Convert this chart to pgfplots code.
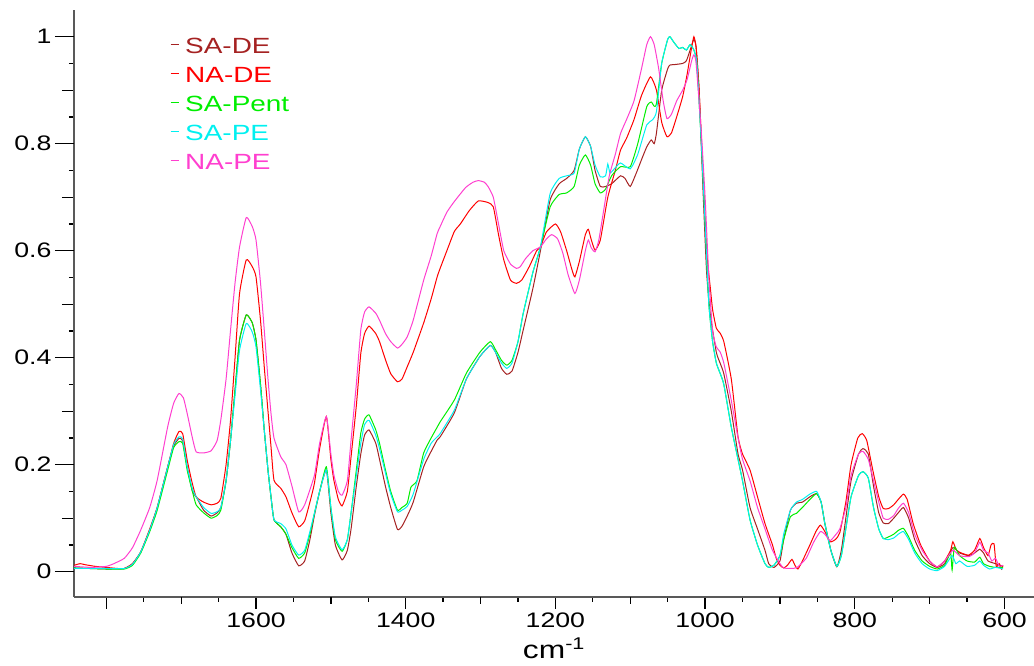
\documentclass[border=0pt]{standalone}
\usepackage{pgfplots}
\pgfplotsset{compat=1.18}
\usepackage{fontspec}
\setmainfont{Liberation Sans}[FakeStretch=1.27]
\definecolor{cSADE}{HTML}{A52222}
\definecolor{cNADE}{HTML}{FF0000}
\definecolor{cSAPent}{HTML}{00EE00}
\definecolor{cSAPE}{HTML}{00F0F0}
\definecolor{cNAPE}{HTML}{FF3FCF}
\begin{document}
\begin{tikzpicture}
\useasboundingbox (0,0) rectangle (1034pt,666pt);
\begin{axis}[
  at={(74pt,69pt)}, anchor=south west,
  scale only axis, width=960pt, height=587pt,
  x dir=reverse,
  xmin=560.6, xmax=1843.2, ymin=-0.0473, ymax=1.0499,
  axis x line*=bottom, axis y line*=left,
  axis line style={black!65, line width=1.3pt},
  every tick/.style={black, line width=1.3pt},
  tick align=outside,
  major tick length=12pt, minor tick length=5pt,
  xtick={600,800,1000,1200,1400,1600,1800},
  xticklabels={600,800,1000,1200,1400,1600,{}},
  extra x ticks={700,900,1100,1300,1500,1700},
  extra x tick labels={},
  extra x tick style={major tick length=7pt},
  minor xtick={650,750,850,950,1050,1150,1250,1350,1450,1550,1650,1750},
  ytick={0.1,0.3,0.5,0.7,0.9},
  yticklabels={},
  extra y ticks={0,0.2,0.4,0.6,0.8,1},
  extra y tick style={major tick length=19pt},
  minor ytick={0.05,0.15,0.25,0.35,0.45,0.55,0.65,0.75,0.85,0.95},
  /pgf/number format/1000 sep={},
  /pgf/number format/assume math mode=true,
  ticklabel style={font=\fontsize{21}{24}\selectfont},
  xlabel={cm\textsuperscript{\fontsize{17}{18}\selectfont -1}},
  xlabel style={font=\fontsize{25}{28}\selectfont, yshift=15pt},
  legend style={draw=none, fill=none, at={(0.1,0.9525)}, anchor=north west,
    font=\fontsize{22}{24}\selectfont, row sep=9pt, column sep=6pt, inner sep=0pt,
    nodes={inner sep=0pt, text height=15pt, text depth=5pt}},
  legend cell align=left,
  legend image code/.code={\draw[#1, line width=1pt] (0pt,4pt) -- (8pt,4pt);},
  every axis plot/.append style={line width=1pt},
]
% SA-DE
\addplot[cSADE, smooth, tension=0.3] coordinates {
(1843,0.007)(1800,0.005)(1776,0.006)(1765,0.015)(1754,0.037)(1742,0.078)(1732,0.12)(1718,0.196)(1710,0.235)(1703,0.249)(1698,0.245)(1692,0.196)(1685,0.15)(1680,0.14)(1670,0.115)(1660,0.104)(1652,0.11)(1647,0.12)(1640,0.17)(1634,0.246)(1628,0.34)(1622,0.433)(1613,0.480)(1605,0.465)(1600,0.433)(1594,0.35)(1589,0.265)(1584,0.19)(1580,0.14)(1576,0.097)(1567,0.084)(1560,0.07)(1552,0.035)(1543,0.011)(1535,0.02)(1528,0.06)(1522,0.105)(1515,0.15)(1506,0.19)(1500,0.11)(1494,0.05)(1485,0.022)(1478,0.04)(1473,0.08)(1466,0.16)(1460,0.22)(1455,0.255)(1449,0.265)(1440,0.24)(1435,0.21)(1427,0.159)(1420,0.12)(1411,0.079)(1405,0.085)(1398,0.104)(1390,0.13)(1376,0.196)(1366,0.225)(1358,0.246)(1354,0.252)(1335,0.297)(1319,0.36)(1301,0.402)(1287,0.423)(1280,0.41)(1272,0.38)(1265,0.369)(1258,0.375)(1250,0.41)(1243,0.452)(1230,0.53)(1220,0.60)(1207,0.695)(1195,0.725)(1185,0.735)(1175,0.75)(1168,0.79)(1160,0.813)(1153,0.795)(1147,0.75)(1140,0.72)(1133,0.72)(1125,0.725)(1113,0.74)(1107,0.735)(1100,0.72)(1092,0.745)(1085,0.77)(1078,0.794)(1072,0.807)(1068,0.80)(1065,0.82)(1058,0.90)(1050,0.94)(1047,0.947)(1040,0.948)(1030,0.950)(1025,0.955)(1020,0.975)(1015,0.995)(1012,0.98)(1008,0.90)(1003,0.72)(998,0.56)(993,0.48)(985,0.41)(980,0.39)(975,0.37)(965,0.30)(956,0.22)(950,0.19)(940,0.12)(930,0.08)(920,0.04)(915,0.015)(908,0.008)(900,0.02)(895,0.06)(886,0.115)(878,0.128)(870,0.13)(860,0.14)(851,0.146)(845,0.13)(840,0.09)(832,0.04)(824,0.009)(818,0.04)(812,0.10)(805,0.17)(795,0.22)(789,0.23)(782,0.22)(775,0.16)(768,0.11)(762,0.091)(755,0.09)(748,0.10)(742,0.11)(735,0.12)(728,0.10)(720,0.06)(710,0.03)(700,0.015)(690,0.008)(680,0.015)(669,0.045)(660,0.035)(648,0.03)(640,0.035)(633,0.042)(628,0.035)(622,0.02)(612,0.015)(602,0.01)
};
\addlegendentry{\textcolor{cSADE}{SA-DE}}
% NA-DE
\addplot[cNADE, smooth, tension=0.3] coordinates {
(1843,0.012)(1835,0.015)(1828,0.013)(1815,0.010)(1800,0.008)(1785,0.006)(1776,0.006)(1765,0.015)(1754,0.037)(1742,0.08)(1732,0.12)(1718,0.196)(1710,0.24)(1703,0.262)(1698,0.258)(1692,0.209)(1686,0.17)(1680,0.14)(1670,0.13)(1660,0.125)(1652,0.128)(1647,0.137)(1640,0.20)(1634,0.284)(1628,0.40)(1622,0.52)(1613,0.583)(1605,0.57)(1600,0.551)(1594,0.47)(1589,0.383)(1584,0.30)(1580,0.234)(1576,0.171)(1567,0.156)(1560,0.14)(1552,0.11)(1543,0.084)(1535,0.095)(1528,0.13)(1522,0.165)(1515,0.23)(1506,0.29)(1500,0.21)(1496,0.171)(1490,0.135)(1485,0.123)(1478,0.15)(1473,0.215)(1466,0.31)(1460,0.408)(1455,0.445)(1449,0.459)(1440,0.445)(1435,0.43)(1427,0.396)(1420,0.37)(1411,0.355)(1405,0.36)(1398,0.383)(1390,0.41)(1376,0.465)(1366,0.51)(1358,0.551)(1354,0.567)(1345,0.60)(1335,0.636)(1327,0.650)(1315,0.675)(1303,0.693)(1290,0.690)(1283,0.682)(1276,0.63)(1269,0.583)(1260,0.545)(1252,0.539)(1245,0.545)(1235,0.57)(1225,0.60)(1220,0.607)(1212,0.635)(1200,0.650)(1193,0.635)(1185,0.60)(1178,0.565)(1174,0.551)(1168,0.58)(1160,0.63)(1156,0.640)(1152,0.62)(1147,0.601)(1140,0.62)(1130,0.70)(1120,0.75)(1113,0.788)(1105,0.81)(1095,0.845)(1085,0.89)(1073,0.925)(1065,0.90)(1058,0.84)(1051,0.813)(1045,0.82)(1038,0.85)(1030,0.888)(1024,0.93)(1018,0.98)(1015,1.0)(1012,0.98)(1008,0.90)(1003,0.75)(998,0.60)(993,0.53)(990,0.49)(985,0.455)(980,0.446)(975,0.43)(965,0.36)(956,0.252)(950,0.22)(940,0.19)(930,0.14)(920,0.09)(910,0.05)(905,0.025)(900,0.012)(895,0.007)(890,0.012)(884,0.023)(880,0.012)(876,0.005)(870,0.02)(860,0.05)(852,0.075)(846,0.087)(840,0.075)(833,0.056)(826,0.06)(820,0.073)(812,0.13)(805,0.20)(796,0.25)(790,0.258)(784,0.245)(776,0.19)(768,0.14)(762,0.118)(755,0.118)(748,0.125)(742,0.135)(735,0.145)(730,0.135)(722,0.09)(712,0.05)(700,0.02)(690,0.009)(680,0.02)(672,0.04)(669,0.056)(664,0.04)(656,0.034)(648,0.031)(640,0.04)(633,0.062)(628,0.045)(622,0.03)(618,0.05)(614,0.052)(611,0.01)(607,0.015)(604,0.005)(602,0.012)
};
\addlegendentry{\textcolor{cNADE}{NA-DE}}
% SA-Pent
\addplot[cSAPent, smooth, tension=0.3] coordinates {
(1843,0.007)(1800,0.005)(1776,0.005)(1765,0.012)(1754,0.035)(1742,0.075)(1732,0.115)(1718,0.19)(1710,0.232)(1703,0.243)(1698,0.24)(1692,0.19)(1685,0.15)(1680,0.125)(1670,0.11)(1660,0.10)(1652,0.105)(1647,0.115)(1640,0.17)(1634,0.246)(1628,0.34)(1622,0.433)(1613,0.480)(1605,0.465)(1600,0.433)(1594,0.35)(1589,0.265)(1584,0.19)(1580,0.14)(1576,0.097)(1567,0.084)(1560,0.07)(1552,0.045)(1543,0.025)(1535,0.035)(1528,0.07)(1522,0.109)(1515,0.15)(1506,0.196)(1500,0.12)(1494,0.06)(1485,0.038)(1478,0.06)(1473,0.11)(1466,0.19)(1460,0.259)(1455,0.285)(1449,0.293)(1440,0.265)(1435,0.24)(1427,0.19)(1420,0.15)(1411,0.115)(1405,0.12)(1398,0.128)(1393,0.158)(1385,0.17)(1376,0.222)(1366,0.25)(1358,0.27)(1354,0.28)(1335,0.321)(1319,0.371)(1301,0.41)(1287,0.43)(1280,0.415)(1272,0.395)(1265,0.386)(1258,0.395)(1250,0.43)(1243,0.483)(1230,0.56)(1220,0.607)(1207,0.682)(1195,0.705)(1185,0.708)(1175,0.72)(1168,0.76)(1160,0.779)(1153,0.76)(1147,0.725)(1140,0.708)(1133,0.715)(1125,0.74)(1113,0.757)(1100,0.757)(1090,0.80)(1078,0.869)(1072,0.878)(1068,0.87)(1065,0.875)(1058,0.95)(1050,0.995)(1047,1.0)(1042,0.99)(1035,0.978)(1030,0.98)(1025,0.975)(1020,0.985)(1015,0.975)(1011,0.95)(1005,0.80)(1000,0.65)(995,0.50)(990,0.43)(985,0.39)(980,0.371)(975,0.35)(965,0.27)(956,0.21)(950,0.17)(940,0.097)(930,0.05)(920,0.015)(915,0.008)(908,0.012)(900,0.03)(895,0.06)(886,0.103)(878,0.109)(870,0.12)(860,0.135)(851,0.146)(845,0.13)(840,0.09)(832,0.04)(824,0.01)(818,0.03)(812,0.08)(805,0.14)(795,0.18)(789,0.187)(782,0.175)(775,0.12)(768,0.08)(762,0.062)(755,0.065)(748,0.07)(742,0.077)(735,0.081)(728,0.065)(720,0.04)(710,0.02)(700,0.01)(690,0.005)(680,0.012)(672,0.035)(670,0.003)(667,0.046)(660,0.03)(650,0.02)(640,0.018)(633,0.027)(628,0.015)(620,0.01)(612,0.008)(602,0.008)
};
\addlegendentry{\textcolor{cSAPent}{SA-Pent}}
% SA-PE
\addplot[cSAPE, smooth, tension=0.3] coordinates {
(1843,0.006)(1800,0.006)(1776,0.006)(1765,0.014)(1754,0.037)(1742,0.078)(1732,0.12)(1718,0.196)(1710,0.238)(1703,0.252)(1698,0.248)(1692,0.196)(1685,0.155)(1680,0.14)(1670,0.12)(1660,0.109)(1652,0.112)(1647,0.12)(1640,0.17)(1634,0.246)(1628,0.33)(1622,0.414)(1613,0.464)(1605,0.448)(1600,0.42)(1594,0.34)(1589,0.265)(1584,0.19)(1580,0.14)(1576,0.097)(1567,0.09)(1560,0.08)(1552,0.05)(1543,0.031)(1535,0.04)(1528,0.075)(1522,0.109)(1515,0.15)(1506,0.19)(1500,0.12)(1494,0.065)(1485,0.041)(1478,0.06)(1473,0.11)(1466,0.18)(1460,0.24)(1455,0.275)(1449,0.283)(1440,0.255)(1435,0.23)(1427,0.184)(1420,0.145)(1411,0.112)(1405,0.115)(1398,0.122)(1390,0.145)(1376,0.21)(1366,0.24)(1358,0.252)(1354,0.258)(1335,0.302)(1319,0.36)(1301,0.402)(1287,0.423)(1280,0.41)(1272,0.39)(1265,0.38)(1258,0.39)(1250,0.43)(1243,0.483)(1230,0.56)(1220,0.607)(1207,0.707)(1195,0.735)(1185,0.74)(1175,0.745)(1168,0.79)(1160,0.813)(1153,0.795)(1147,0.76)(1140,0.738)(1133,0.74)(1130,0.762)(1127,0.745)(1120,0.755)(1113,0.764)(1100,0.753)(1090,0.78)(1078,0.835)(1070,0.845)(1065,0.86)(1058,0.95)(1050,0.995)(1047,1.0)(1042,0.99)(1035,0.978)(1030,0.98)(1025,0.975)(1020,0.985)(1015,0.975)(1011,0.95)(1005,0.80)(1000,0.65)(995,0.50)(990,0.43)(985,0.39)(980,0.371)(975,0.35)(965,0.27)(956,0.21)(950,0.17)(940,0.097)(930,0.05)(920,0.015)(915,0.008)(908,0.012)(900,0.03)(895,0.07)(886,0.115)(878,0.13)(870,0.135)(860,0.145)(851,0.15)(845,0.13)(840,0.09)(832,0.04)(824,0.01)(818,0.03)(812,0.08)(805,0.14)(795,0.18)(789,0.187)(782,0.175)(775,0.12)(768,0.08)(762,0.062)(755,0.06)(748,0.063)(742,0.07)(735,0.075)(728,0.06)(720,0.035)(710,0.015)(700,0.005)(690,0.002)(680,0.01)(670,0.03)(665,0.015)(660,0.02)(650,0.01)(640,0.012)(633,0.02)(628,0.012)(620,0.005)(612,0.008)(602,0.005)
};
\addlegendentry{\textcolor{cSAPE}{SA-PE}}
% NA-PE
\addplot[cNAPE, smooth, tension=0.3] coordinates {
(1843,0.010)(1820,0.008)(1800,0.010)(1790,0.015)(1776,0.025)(1765,0.045)(1754,0.078)(1742,0.12)(1732,0.171)(1718,0.271)(1710,0.315)(1703,0.333)(1697,0.325)(1692,0.296)(1685,0.25)(1680,0.224)(1670,0.222)(1660,0.226)(1652,0.245)(1647,0.284)(1640,0.36)(1634,0.452)(1628,0.54)(1622,0.607)(1613,0.662)(1605,0.645)(1600,0.62)(1594,0.54)(1589,0.452)(1584,0.36)(1580,0.296)(1576,0.25)(1567,0.215)(1560,0.20)(1552,0.16)(1543,0.112)(1535,0.125)(1522,0.18)(1515,0.24)(1506,0.29)(1500,0.22)(1496,0.181)(1490,0.15)(1485,0.143)(1478,0.17)(1473,0.246)(1466,0.35)(1460,0.452)(1455,0.485)(1449,0.495)(1440,0.483)(1435,0.47)(1427,0.445)(1420,0.43)(1411,0.418)(1405,0.425)(1398,0.439)(1390,0.47)(1376,0.545)(1366,0.59)(1358,0.632)(1354,0.645)(1345,0.672)(1335,0.692)(1320,0.718)(1310,0.728)(1303,0.731)(1295,0.728)(1290,0.72)(1283,0.70)(1276,0.65)(1269,0.60)(1260,0.575)(1252,0.567)(1247,0.57)(1240,0.585)(1230,0.60)(1220,0.607)(1212,0.622)(1205,0.630)(1197,0.622)(1190,0.595)(1183,0.555)(1174,0.520)(1168,0.545)(1160,0.60)(1156,0.620)(1152,0.605)(1147,0.598)(1142,0.62)(1135,0.68)(1128,0.74)(1120,0.78)(1113,0.819)(1105,0.845)(1095,0.88)(1085,0.94)(1078,0.985)(1073,1.0)(1068,0.985)(1062,0.94)(1056,0.88)(1051,0.847)(1045,0.855)(1038,0.88)(1030,0.90)(1024,0.92)(1018,0.955)(1015,0.966)(1012,0.95)(1005,0.82)(1000,0.70)(995,0.55)(990,0.45)(985,0.42)(980,0.411)(975,0.39)(965,0.32)(956,0.25)(950,0.21)(940,0.17)(930,0.12)(920,0.08)(910,0.04)(900,0.015)(895,0.007)(885,0.006)(877,0.008)(865,0.025)(855,0.055)(846,0.075)(840,0.07)(833,0.058)(825,0.07)(820,0.08)(812,0.12)(805,0.18)(795,0.22)(789,0.225)(782,0.21)(775,0.17)(768,0.13)(762,0.10)(755,0.098)(748,0.105)(742,0.118)(735,0.128)(728,0.11)(720,0.07)(710,0.04)(700,0.02)(690,0.009)(680,0.02)(669,0.04)(660,0.03)(648,0.028)(640,0.035)(633,0.055)(628,0.04)(622,0.035)(617,0.02)(612,0.025)(607,0.01)(602,0.012)
};
\addlegendentry{\textcolor{cNAPE}{NA-PE}}
\end{axis}
\end{tikzpicture}
\end{document}
